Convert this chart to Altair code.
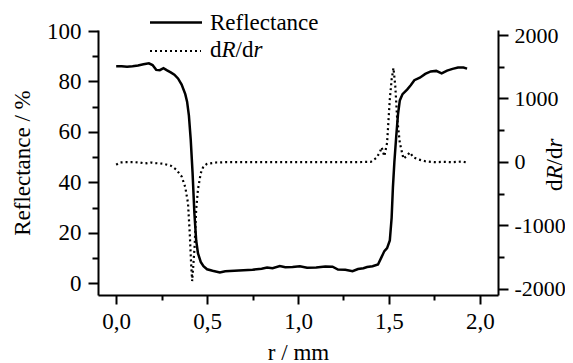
import altair as alt
import pandas as pd

# Reflectance curve (solid)
refl_r = [0.00, 0.03, 0.06, 0.09, 0.12, 0.15, 0.18, 0.20, 0.22, 0.24, 0.26, 0.28, 0.30, 0.32,
          0.34, 0.36, 0.38, 0.39, 0.40, 0.41, 0.42, 0.43, 0.44, 0.45, 0.465, 0.48, 0.50, 0.53,
          0.57, 0.60, 0.65, 0.70, 0.75, 0.80, 0.83, 0.86, 0.90, 0.93, 0.97, 1.01, 1.05, 1.10,
          1.15, 1.19, 1.22, 1.26, 1.30, 1.33, 1.36, 1.38, 1.41, 1.44, 1.46, 1.475, 1.49, 1.505,
          1.515, 1.522, 1.53, 1.54, 1.55, 1.56, 1.575, 1.60, 1.62, 1.64, 1.67, 1.70, 1.73, 1.76,
          1.79, 1.82, 1.85, 1.88, 1.91, 1.93]
refl_v = [86.0, 86.0, 85.8, 86.0, 86.3, 86.8, 87.2, 86.5, 84.6, 84.5, 85.3, 84.4, 83.6, 82.7,
          81.2, 78.8, 75.0, 72.0, 66.5, 57.0, 44.0, 28.0, 17.0, 11.9, 8.5, 6.8, 5.6, 5.0,
          4.3, 4.8, 5.0, 5.2, 5.4, 5.8, 6.3, 6.0, 6.9, 6.4, 6.5, 6.8, 6.2, 6.3,
          6.7, 6.6, 5.5, 5.4, 4.8, 5.7, 6.0, 6.5, 6.8, 7.5, 10.5, 12.8, 14.0, 17.0,
          26.0, 38.0, 48.0, 58.0, 67.0, 72.5, 75.0, 76.8, 78.5, 80.5, 81.5, 83.0, 84.0, 84.2,
          83.2, 84.3, 85.0, 85.5, 85.5, 85.1]

# Derivative curve (dotted)
der_r = [0.00, 0.02, 0.05, 0.10, 0.13, 0.16, 0.19, 0.22, 0.26, 0.30, 0.33, 0.36, 0.38, 0.395,
         0.405, 0.412, 0.418, 0.425, 0.432, 0.44, 0.45, 0.465, 0.48, 0.50, 0.55, 0.60, 0.70,
         0.80, 0.90, 1.00, 1.10, 1.20, 1.30, 1.40, 1.43, 1.45, 1.46, 1.475, 1.49, 1.505, 1.515,
         1.525, 1.535, 1.545, 1.56, 1.58, 1.60, 1.615, 1.635, 1.66, 1.70, 1.75, 1.80, 1.85,
         1.90, 1.93]
der_v = [-45, -10, -5, -5, -10, -25, -10, -20, -30, -60, -120, -230, -400, -650,
         -1150, -1600, -1880, -1600, -1300, -750, -430, -180, -70, -30, -10, -5, -5,
         -5, -5, -5, -5, -5, -5, 0, 60, 150, 230, 90, 300, 990, 1300,
         1480, 1200, 700, 300, 50, 100, 150, 70, 40, 10, -5, 0, -5,
         5, -10]

df_R = pd.DataFrame({"r": refl_r, "R": refl_v})
df_D = pd.DataFrame({"r": der_r, "D": der_v})

FONT = "Liberation Serif"
FS = 23

x_axis = alt.Axis(
    values=[i * 0.25 for i in range(9)],
    labelExpr="abs(datum.value*2 - round(datum.value*2)) < 0.01 ? replace(format(datum.value, '.1f'), '.', ',') : ''",
    tickSize={"condition": {"test": "abs(datum.value*2 - round(datum.value*2)) > 0.01", "value": 5}, "value": 9},
    title="r / mm", titleFont=FONT, titleFontSize=FS, titleFontWeight="normal", titleColor="black",
    titlePadding=8,
    labelFont=FONT, labelFontSize=FS, labelColor="black", labelPadding=6,
    labelOverlap=False, labelFlush=False,
    domainColor="black", domainWidth=2, tickColor="black", tickWidth=2, grid=False,
)
x_enc = alt.X("r:Q", scale=alt.Scale(domain=[-0.1, 2.1], nice=False, zero=False), axis=x_axis)

left_axis = alt.Axis(
    orient="left", values=list(range(0, 101, 10)),
    labelExpr="datum.value % 20 === 0 ? datum.label : ''",
    tickSize={"condition": {"test": "datum.value % 20 !== 0", "value": 6}, "value": 10},
    title="Reflectance / %", titleFont=FONT, titleFontSize=FS, titleFontWeight="normal",
    titleColor="black", titlePadding=12,
    labelFont=FONT, labelFontSize=FS, labelColor="black", labelPadding=7,
    labelOverlap=False, labelFlush=False,
    domainColor="black", domainWidth=2, tickColor="black", tickWidth=2, grid=False,
)
right_axis = alt.Axis(
    orient="right", values=list(range(-2000, 2001, 500)),
    labelExpr="datum.value % 1000 === 0 ? '' + datum.value : ''",
    tickSize={"condition": {"test": "datum.value % 1000 !== 0", "value": 6}, "value": 10},
    title=None,
    labelFont=FONT, labelFontSize=22, labelColor="black", labelPadding=6,
    labelOverlap=False, labelFlush=False,
    domainColor="black", domainWidth=2, tickColor="black", tickWidth=2, grid=False,
)

refl = alt.Chart(df_R).mark_line(color="black", strokeWidth=2.5).encode(
    x=x_enc,
    y=alt.Y("R:Q", scale=alt.Scale(domain=[-4.6, 100.4], nice=False, zero=False), axis=left_axis),
)
deriv = alt.Chart(df_D).mark_line(color="black", strokeWidth=2.2, strokeDash=[2, 3]).encode(
    x=x_enc,
    y=alt.Y("D:Q", scale=alt.Scale(domain=[-2100, 2080], nice=False, zero=False), axis=right_axis),
)

one = alt.Data(values=[{"a": 1}])

def txt(s, x, y, italic=False, angle=0):
    return alt.Chart(one).mark_text(
        text=s, font=FONT, fontSize=FS, color="black", align="left", baseline="alphabetic",
        fontStyle="italic" if italic else "normal", angle=angle,
    ).encode(x=alt.value(x), y=alt.value(y))

leg_solid = alt.Chart(one).mark_rule(color="black", strokeWidth=2.5).encode(
    x=alt.value(52), x2=alt.value(104), y=alt.value(-7.5))
leg_dot = alt.Chart(one).mark_rule(color="black", strokeWidth=2.2, strokeDash=[2, 3]).encode(
    x=alt.value(52), x2=alt.value(103), y=alt.value(21))

legend = [
    leg_solid, leg_dot,
    txt("Reflectance", 112, 0),
    txt("d", 112, 26.5), txt("R", 123.5, 26.5, True), txt("/d", 137.5, 26.5), txt("r", 155.4, 26.5, True),
]

# right axis title dR/dr (rotated)
rx = 464
ry = 161
rtitle = [
    txt("d", rx, ry, angle=270),
    txt("R", rx, ry - 11.5, True, angle=270),
    txt("/d", rx, ry - 25.5, angle=270),
    txt("r", rx, ry - 43.4, True, angle=270),
]

chart = alt.layer(refl, deriv, *legend, *rtitle).resolve_scale(y="independent").properties(
    width=400, height=265,
    padding={"left": 90, "top": 22, "right": 67, "bottom": 68},
    autosize=alt.AutoSizeParams(type="none"),
).configure_view(stroke=None)

chart.save("out.html", embed_options={"renderer": "svg", "actions": False})
